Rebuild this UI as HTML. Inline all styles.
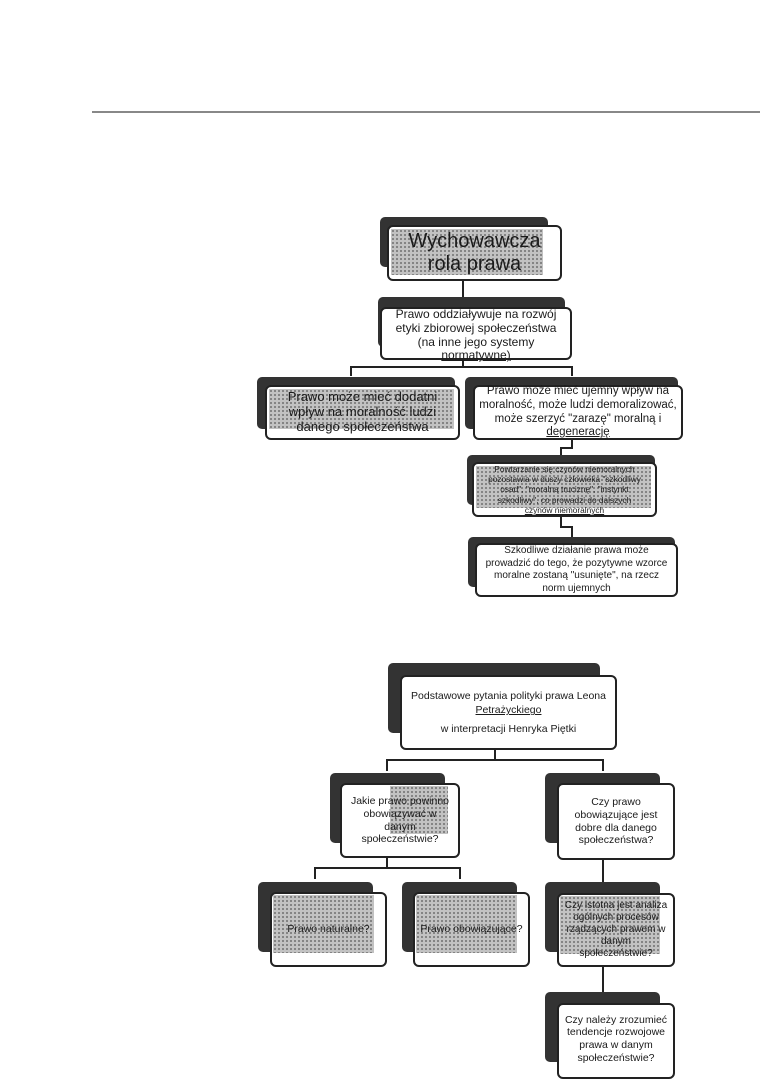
<!DOCTYPE html>
<html><head><meta charset="utf-8">
<style>
html,body{margin:0;padding:0;background:#fff;}
body{width:760px;height:1075px;position:relative;overflow:hidden;font-family:"Liberation Sans",sans-serif;color:#1a1a1a;}
.a{position:absolute;box-sizing:border-box;}
.sh{background:#333;border-radius:5px;}
.bx{background:#fff;border:2.5px solid #222;border-radius:6px;display:flex;align-items:center;justify-content:center;text-align:center;line-height:1.15;}
.ht{background-color:#c2c2c2;background-image:radial-gradient(circle,#7a7a7a 0.9px,transparent 1.2px);background-size:4px 4px;}
.ln{background:#222;}
.t{position:relative;z-index:2;white-space:nowrap;}
</style></head><body>
<div class="a" style="left:92px;top:111px;width:668px;height:2px;background:#888;"></div>

<!-- top diagram -->
<div class="a sh" style="left:380px;top:217px;width:168px;height:50px;"></div>
<div class="a bx" style="left:387px;top:225px;width:175px;height:56px;font-size:20px;"><div class="a ht" style="left:2px;top:2px;width:152px;height:46px;"></div><span class="t">Wychowawcza<br>rola prawa</span></div>
<div class="a ln" style="left:462px;top:281px;width:2px;height:17px;"></div>

<div class="a sh" style="left:378px;top:297px;width:187px;height:50px;"></div>
<div class="a bx" style="left:380px;top:307px;width:192px;height:53px;font-size:12px;align-items:flex-start;overflow:visible;"><span class="t" style="margin-top:-1px;">Prawo oddziaływuje na rozwój<br>etyki zbiorowej społeczeństwa<br>(na inne jego systemy<br><u>normatywne)</u></span></div>
<div class="a ln" style="left:462px;top:360px;width:2px;height:8px;"></div>
<div class="a ln" style="left:350px;top:366px;width:223px;height:2px;"></div>
<div class="a ln" style="left:350px;top:366px;width:2px;height:10px;"></div>
<div class="a ln" style="left:571px;top:366px;width:2px;height:10px;"></div>

<div class="a sh" style="left:257px;top:377px;width:198px;height:52px;"></div>
<div class="a bx" style="left:265px;top:385px;width:195px;height:55px;font-size:13px;"><div class="a ht" style="left:2px;top:2px;width:185px;height:40px;"></div><span class="t">Prawo może mieć dodatni<br>wpływ na moralność ludzi<br>danego społeczeństwa</span></div>

<div class="a sh" style="left:465px;top:377px;width:213px;height:52px;"></div>
<div class="a bx" style="left:473px;top:385px;width:210px;height:55px;font-size:11.5px;line-height:1.18;"><span class="t">Prawo może mieć ujemny wpływ na<br>moralność, może ludzi demoralizować,<br>może szerzyć "zarazę" moralną i<br><u>degenerację</u></span></div>

<div class="a ln" style="left:571px;top:440px;width:2px;height:8px;"></div>
<div class="a ln" style="left:560px;top:447px;width:13px;height:2px;"></div>
<div class="a ln" style="left:560px;top:447px;width:2px;height:9px;"></div>

<div class="a sh" style="left:467px;top:455px;width:188px;height:50px;"></div>
<div class="a bx" style="left:472px;top:462px;width:185px;height:55px;font-size:8.3px;line-height:1.25;"><div class="a ht" style="left:2px;top:2px;width:175px;height:42px;"></div><span class="t">Powtarzanie się czynów niemoralnych<br>pozostawia w duszy człowieka "szkodliwy<br>osad", "moralną truciznę", "instynkt<br>szkodliwy", co prowadzi do dalszych<br><u>czynów niemoralnych</u></span></div>

<div class="a ln" style="left:560px;top:517px;width:2px;height:10px;"></div>
<div class="a ln" style="left:560px;top:526px;width:13px;height:2px;"></div>
<div class="a ln" style="left:571px;top:526px;width:2px;height:11px;"></div>

<div class="a sh" style="left:468px;top:537px;width:207px;height:50px;"></div>
<div class="a bx" style="left:475px;top:543px;width:203px;height:54px;font-size:10px;line-height:1.25;"><span class="t">Szkodliwe działanie prawa może<br>prowadzić do tego, że pozytywne wzorce<br>moralne zostaną "usunięte", na rzecz<br>norm ujemnych</span></div>

<!-- bottom diagram -->
<div class="a sh" style="left:388px;top:663px;width:212px;height:70px;"></div>
<div class="a bx" style="left:400px;top:675px;width:217px;height:75px;font-size:10.5px;line-height:1.35;"><span class="t">Podstawowe pytania polityki prawa Leona<br><u>Petrażyckiego</u><br><span style="display:inline-block;margin-top:4px;">w interpretacji Henryka Piętki</span></span></div>
<div class="a ln" style="left:494px;top:750px;width:2px;height:11px;"></div>
<div class="a ln" style="left:386px;top:759px;width:218px;height:2px;"></div>
<div class="a ln" style="left:386px;top:759px;width:2px;height:12px;"></div>
<div class="a ln" style="left:602px;top:759px;width:2px;height:12px;"></div>

<div class="a sh" style="left:330px;top:773px;width:115px;height:70px;"></div>
<div class="a bx" style="left:340px;top:783px;width:120px;height:75px;font-size:10.5px;line-height:1.2;"><div class="a ht" style="left:48px;top:1px;width:58px;height:48px;"></div><span class="t">Jakie prawo powinno<br>obowiązywać w<br>danym<br>społeczeństwie?</span></div>

<div class="a sh" style="left:545px;top:773px;width:115px;height:70px;"></div>
<div class="a bx" style="left:557px;top:783px;width:118px;height:77px;font-size:10.5px;line-height:1.2;"><span class="t">Czy prawo<br>obowiązujące jest<br>dobre dla danego<br>społeczeństwa?</span></div>

<div class="a ln" style="left:386px;top:858px;width:2px;height:11px;"></div>
<div class="a ln" style="left:314px;top:867px;width:147px;height:2px;"></div>
<div class="a ln" style="left:314px;top:867px;width:2px;height:12px;"></div>
<div class="a ln" style="left:459px;top:867px;width:2px;height:12px;"></div>

<div class="a sh" style="left:258px;top:882px;width:115px;height:70px;"></div>
<div class="a bx" style="left:270px;top:892px;width:117px;height:75px;font-size:10.5px;"><div class="a ht" style="left:1px;top:1px;width:101px;height:58px;"></div><span class="t">Prawo naturalne?</span></div>

<div class="a sh" style="left:402px;top:882px;width:115px;height:70px;"></div>
<div class="a bx" style="left:413px;top:892px;width:117px;height:75px;font-size:10.5px;"><div class="a ht" style="left:1px;top:1px;width:101px;height:58px;"></div><span class="t">Prawo obowiązujące?</span></div>

<div class="a ln" style="left:602px;top:860px;width:2px;height:22px;"></div>

<div class="a sh" style="left:545px;top:882px;width:115px;height:70px;"></div>
<div class="a bx" style="left:557px;top:893px;width:118px;height:74px;font-size:10px;line-height:1.2;"><div class="a ht" style="left:1px;top:1px;width:100px;height:58px;"></div><span class="t">Czy istotna jest analiza<br>ogólnych procesów<br>rządzących prawem w<br>danym<br>społeczeństwie?</span></div>

<div class="a ln" style="left:602px;top:967px;width:2px;height:25px;"></div>

<div class="a sh" style="left:545px;top:992px;width:115px;height:70px;"></div>
<div class="a bx" style="left:557px;top:1003px;width:118px;height:76px;font-size:10.5px;line-height:1.2;"><span class="t" style="margin-top:-4px;">Czy należy zrozumieć<br>tendencje rozwojowe<br>prawa w danym<br>społeczeństwie?</span></div>
</body></html>
